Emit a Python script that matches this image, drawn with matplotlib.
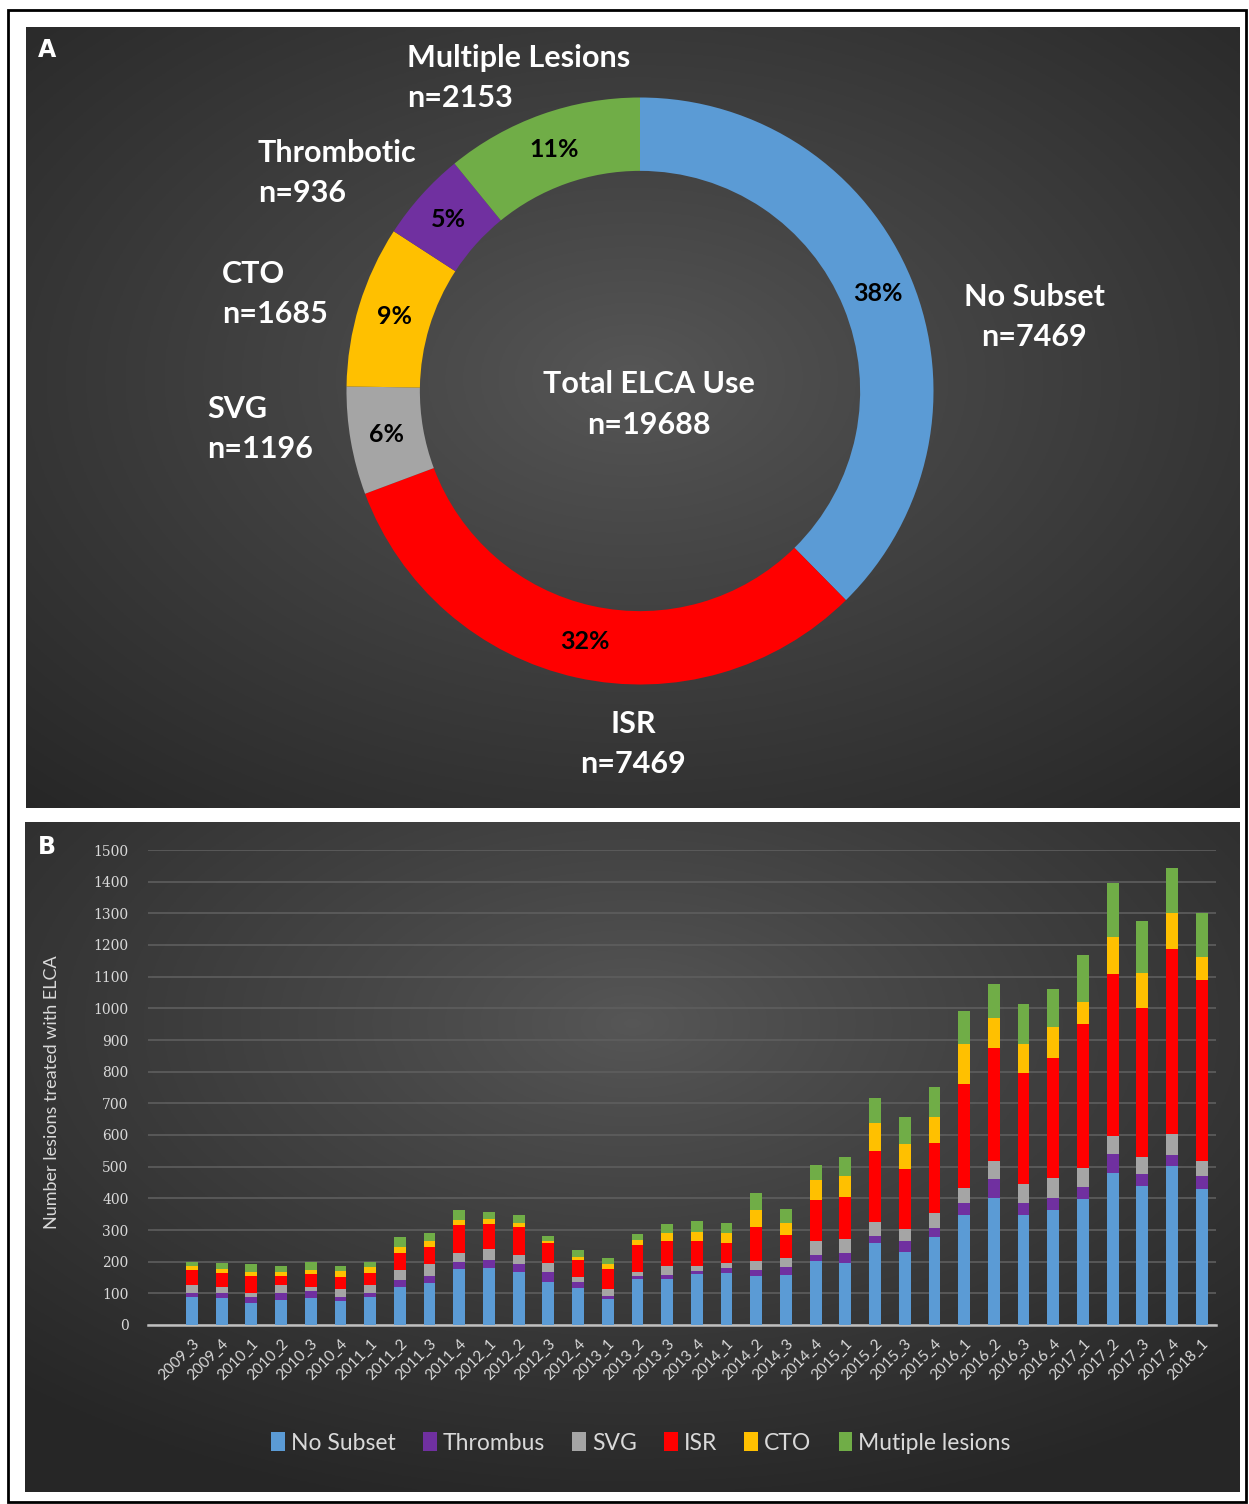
import matplotlib.pyplot as plt
import numpy as np
from matplotlib.patches import Rectangle

# Panel A: donut
segmentos = ['No Subset', 'ISR', 'SVG', 'CTO', 'Thrombotic', 'Multiple Lesions']
porcentajes = [38, 32, 6, 9, 5, 11]
conteos = [7469, 7469, 1196, 1685, 936, 2153]
total_elca = 19688

# Panel B: lesiones por trimestre
trimestres = ['2009_3', '2009_4',
              '2010_1', '2010_2', '2010_3', '2010_4',
              '2011_1', '2011_2', '2011_3', '2011_4',
              '2012_1', '2012_2', '2012_3', '2012_4',
              '2013_1', '2013_2', '2013_3', '2013_4',
              '2014_1', '2014_2', '2014_3', '2014_4',
              '2015_1', '2015_2', '2015_3', '2015_4',
              '2016_1', '2016_2', '2016_3', '2016_4',
              '2017_1', '2017_2', '2017_3', '2017_4',
              '2018_1']
no_subset = [90, 86, 70, 80, 86, 77, 90, 121, 134, 177, 179, 166, 135, 116, 82, 144, 144, 160,
             165, 155, 157, 202, 196, 258, 232, 279, 346, 400, 346, 363, 399, 481, 439, 503, 428]
thrombus = [12, 14, 17, 20, 22, 10, 12, 21, 22, 23, 26, 26, 32, 21, 11, 11, 14, 11,
            14, 19, 25, 20, 30, 24, 32, 27, 38, 61, 40, 39, 38, 59, 37, 35, 44]
svg = [24, 21, 13, 26, 13, 26, 24, 32, 36, 26, 34, 29, 28, 14, 20, 13, 29, 16,
       16, 28, 29, 43, 46, 44, 40, 49, 48, 57, 58, 62, 60, 58, 56, 65, 46]
isr = [48, 42, 56, 29, 40, 40, 39, 54, 55, 90, 80, 88, 63, 54, 64, 84, 79, 78,
       65, 107, 72, 130, 132, 225, 188, 220, 329, 357, 351, 379, 452, 510, 470, 584, 571]
cto = [12, 14, 11, 12, 13, 17, 19, 19, 19, 16, 15, 14, 8, 11, 15, 16, 26, 30,
       30, 54, 40, 63, 68, 86, 79, 83, 125, 94, 91, 99, 70, 117, 109, 113, 72]
multiples = [13, 19, 26, 18, 25, 16, 15, 32, 24, 30, 23, 23, 16, 21, 21, 19, 26, 35,
             33, 53, 42, 48, 60, 79, 85, 94, 105, 108, 128, 118, 149, 170, 166, 142, 141]

AZUL = '#5B9BD5'
MORADO = '#7030A0'
GRIS = '#A5A5A5'
ROJO = '#FF0000'
AMARILLO = '#FFC000'
VERDE = '#70AD47'

W, H = 1249, 1504


def px(x, y):
    # pixeles de la imagen -> coordenadas de figura
    return x / W, 1 - y / H


def fondo(fig, x0, y0, x1, y1, cx, cy):
    # rectangulo oscuro con degradado radial
    l, b = px(x0, y1)
    ax = fig.add_axes([l, b, (x1 - x0) / W, (y1 - y0) / H], zorder=0)
    yy, xx = np.mgrid[0:1:300j, 0:1:400j]
    d = np.sqrt(((xx - cx) / 0.75) ** 2 + ((yy - cy) / 0.75) ** 2)
    d = np.clip(d, 0, 1) ** 0.9
    centro = np.array([0.34, 0.34, 0.34])
    borde = np.array([0.15, 0.15, 0.15])
    img = centro * (1 - d)[..., None] + borde * d[..., None]
    ax.imshow(img, extent=[0, 1, 0, 1], aspect='auto')
    ax.set_xlim(0, 1)
    ax.set_ylim(0, 1)
    ax.axis('off')
    return ax


fig = plt.figure(figsize=(W / 100, H / 100), dpi=100)
fig.patch.set_facecolor('white')

fig.add_artist(Rectangle(px(8, 1502), 1238 / W, 1492 / H, fill=False,
                         edgecolor='black', linewidth=2, transform=fig.transFigure))

fondo(fig, 26, 27, 1240, 808, 0.5, 0.45)
fondo(fig, 25, 822, 1240, 1492, 0.5, 0.3)

fuente = 'Lato'

# ---------------- Panel A ----------------
r = 293.5
l, b = px(640 - r, 391 + r)
ax1 = fig.add_axes([l, b, 2 * r / W, 2 * r / H], zorder=2)
ax1.set_facecolor('none')
colores = [AZUL, ROJO, GRIS, AMARILLO, MORADO, VERDE]
wedges, textos, pcts = ax1.pie(porcentajes, colors=colores, startangle=90, counterclock=False,
                               radius=1, autopct='%.0f%%', pctdistance=0.875,
                               wedgeprops=dict(width=0.25, linewidth=0),
                               textprops=dict(color='black', fontsize=18, fontweight='bold',
                                              family=fuente))
ax1.set_xlim(-1, 1)
ax1.set_ylim(-1, 1)
ax1.set_aspect('equal')
ax1.axis('off')

ax1.text(0.03, -0.045, 'Total ELCA Use\nn=' + str(total_elca), ha='center', va='center',
         color='white', fontsize=22, fontweight='bold', family=fuente, linespacing=1.55)

# etiquetas de cada segmento
posiciones = {
    'No Subset': (1034, 317, 'center'),
    'ISR': (633, 744, 'center'),
    'SVG': (207, 429, 'left'),
    'CTO': (222, 294, 'left'),
    'Thrombotic': (258, 173, 'left'),
    'Multiple Lesions': (407, 78, 'left'),
}
for nombre, n in zip(segmentos, conteos):
    x, y, ha = posiciones[nombre]
    fx, fy = px(x, y)
    fig.text(fx, fy, nombre + '\nn=' + str(n), ha=ha, va='center', color='white',
             fontsize=22, fontweight='bold', family=fuente, linespacing=1.55, zorder=3)

fx, fy = px(47, 50)
fig.text(fx, fy, 'A', color='white', fontsize=17, fontweight='bold', family='DejaVu Sans',
         ha='center', va='center', zorder=3)

# ---------------- Panel B ----------------
l, b = px(148, 1325)
ax2 = fig.add_axes([l, b, (1216 - 148) / W, 475 / H], zorder=2)
ax2.set_facecolor('none')
x = np.arange(len(trimestres))
series = [no_subset, thrombus, svg, isr, cto, multiples]
nombres = ['No Subset', 'Thrombus', 'SVG', 'ISR', 'CTO', 'Mutiple lesions']
colores_b = [AZUL, MORADO, GRIS, ROJO, AMARILLO, VERDE]
base = np.zeros(len(trimestres))
for datos, nombre, color in zip(series, nombres, colores_b):
    ax2.bar(x, datos, bottom=base, width=0.4, color=color, label=nombre, zorder=3)
    base = base + np.array(datos)

ax2.set_xlim(-1.48, 34.48)
ax2.set_ylim(0, 1500)
ax2.set_yticks(np.arange(0, 1501, 100))
ax2.yaxis.grid(True, color='#5E5E5E', linewidth=1.2, zorder=0)
for s in ['top', 'right', 'left']:
    ax2.spines[s].set_visible(False)
ax2.spines['bottom'].set_color('#BFBFBF')
ax2.spines['bottom'].set_linewidth(1.8)
ax2.tick_params(axis='both', length=0, colors='#D9D9D9')
ax2.tick_params(axis='y', pad=14)
for t in ax2.get_yticklabels():
    t.set_family('DejaVu Serif')
    t.set_fontsize(10)
ax2.set_xticks(x)
ax2.set_xticklabels(trimestres, rotation=45, ha='right', va='top', rotation_mode='anchor',
                    fontsize=11, family=fuente, color='#D9D9D9')
ax2.tick_params(axis='x', pad=8)

fx, fy = px(52, 1092)
fig.text(fx, fy, 'Number lesions treated with ELCA', rotation=90, ha='center', va='center',
         color='#D9D9D9', fontsize=13, family=fuente, zorder=3)

fx, fy = px(47, 847)
fig.text(fx, fy, 'B', color='white', fontsize=17, fontweight='bold', family='DejaVu Sans',
         ha='center', va='center', zorder=3)

fx, fy = px(641, 1443)
leg = ax2.legend(loc='center', bbox_to_anchor=(fx, fy), bbox_transform=fig.transFigure,
                 ncol=6, frameon=False, handlelength=0.6, handleheight=0.9, handletextpad=0.25,
                 columnspacing=1.2, prop=dict(family=fuente, size=16.5))
for t in leg.get_texts():
    t.set_color('#D9D9D9')

fig.savefig('out.png', dpi=100, facecolor=fig.get_facecolor())
